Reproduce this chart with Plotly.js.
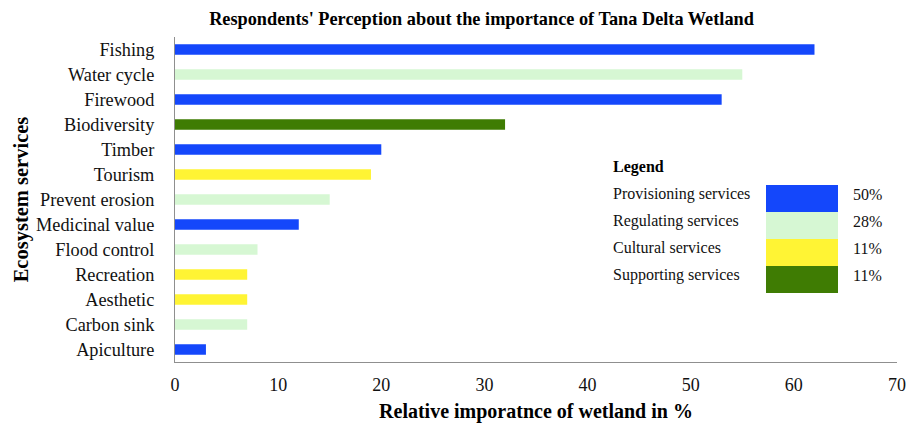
<!DOCTYPE html>
<html>
<head>
<meta charset="utf-8">
<script src="https://cdn.plot.ly/plotly-3.0.1.min.js"></script>
<style>html,body{margin:0;padding:0;background:#fff;}#chart{width:907px;height:426px;}</style>
</head>
<body>
<div id="chart"></div>
<script>
// ---- data ----
const categories = ["Fishing","Water cycle","Firewood","Biodiversity","Timber","Tourism","Prevent erosion","Medicinal value","Flood control","Recreation","Aesthetic","Carbon sink","Apiculture"];
const values = [62, 55, 53, 32, 20, 19, 15, 12, 8, 7, 7, 7, 3];
const groups = ["Provisioning","Regulating","Provisioning","Supporting","Provisioning","Cultural","Regulating","Provisioning","Regulating","Cultural","Cultural","Regulating","Provisioning"];
const groupNames = ["Provisioning","Regulating","Cultural","Supporting"];
const legendLabels = ["Provisioning services","Regulating services","Cultural services","Supporting services"];
const legendShares = ["50%","28%","11%","11%"];
const groupColors = ["#1447fb","#d6f7d3","#fff434","#3f7c03"];
const xTicks = [0,10,20,30,40,50,60,70];

const colorOf = g => groupColors[groupNames.indexOf(g)];
const serif = "'Liberation Serif', 'Times New Roman', Tinos, 'DejaVu Serif', serif";

const trace = {
  type: "bar",
  orientation: "h",
  y: categories,
  x: values,
  width: 0.42,
  marker: {color: groups.map(colorOf), line: {width: 0}},
  hoverinfo: "x+y",
  showlegend: false
};

// custom legend box (annotations + swatches)
const W = 722, H = 325, L = 175, T = 37;
const px = x => (x - L) / W;
const py = y => (T + H - y) / H;
const annotations = [
  {xref:"paper", yref:"paper", x: px(611), y: py(167), xanchor:"left", yanchor:"middle",
   text:"<b>Legend</b>", showarrow:false, font:{family:serif, size:16, color:"#000"}}
];
const shapes = [];
const rowTop = 185, rowH = 27;
legendLabels.forEach((lab, i) => {
  const top = rowTop + i * rowH;
  shapes.push({type:"rect", xref:"paper", yref:"paper", x0: px(766), x1: px(838),
    y0: py(top + rowH), y1: py(top), fillcolor: groupColors[i], line:{width:0}, layer:"above"});
  annotations.push({xref:"paper", yref:"paper", x: px(611), y: py(top + 8.5), xanchor:"left", yanchor:"middle",
    text: lab, showarrow:false, font:{family:serif, size:16, color:"#111"}});
  annotations.push({xref:"paper", yref:"paper", x: px(867), y: py(top + 9), xanchor:"center", yanchor:"middle",
    text: legendShares[i], showarrow:false, font:{family:serif, size:16, color:"#111"}});
});

const layout = {
  width: 907, height: 426,
  margin: {l: L, r: 10, t: T, b: 64, pad: 0},
  paper_bgcolor: "#fff", plot_bgcolor: "#fff",
  font: {family: serif, color: "#111"},
  title: {text: "<b>Respondents' Perception about the importance of Tana Delta Wetland</b>",
    font: {family: serif, size: 18.3, color: "#000"}, xref: "paper", x: px(481.5), xanchor: "center",
    yref: "container", y: 1 - 19/426, yanchor: "middle"},
  xaxis: {
    range: [0, 70], tickvals: xTicks, ticktext: xTicks.map(String),
    showgrid: false, zeroline: false, showline: true, linecolor: "#8f8f8f", linewidth: 1,
    ticks: "", ticklabelstandoff: 6, tickfont: {family: serif, size: 18, color: "#111"},
    title: {text: "<b>Relative imporatnce of wetland in %</b>", font: {family: serif, size: 20, color: "#000"}, standoff: 10},
    fixedrange: true
  },
  yaxis: {
    autorange: "reversed", type: "category",
    showgrid: false, zeroline: false, showline: true, linecolor: "#8f8f8f", linewidth: 1,
    ticks: "", ticklabelstandoff: 16, tickfont: {family: serif, size: 18.3, color: "#111"},
    title: {text: "<b>Ecosystem services</b>", font: {family: serif, size: 20.5, color: "#000"}, standoff: 1},
    fixedrange: true
  },
  annotations: annotations,
  shapes: shapes,
  bargap: 0.58
};

Plotly.newPlot("chart", [trace], layout, {displayModeBar: false, staticPlot: true});
</script>
</body>
</html>
